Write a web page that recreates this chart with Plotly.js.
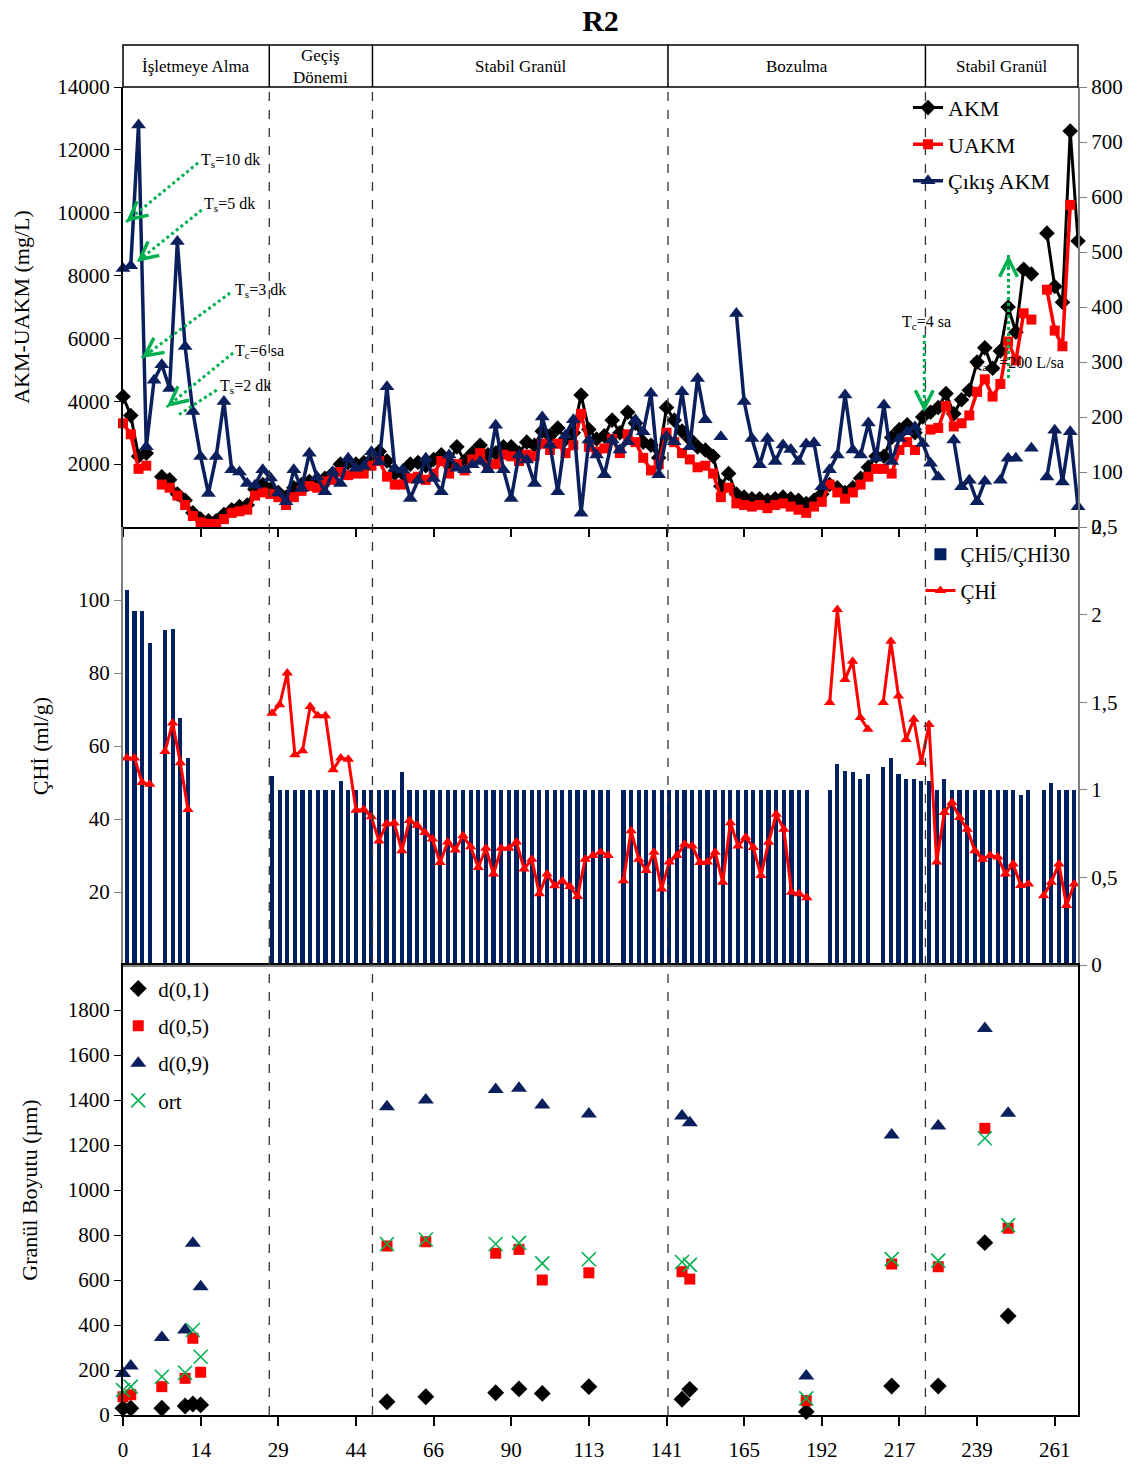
<!DOCTYPE html>
<html>
<head>
<meta charset="utf-8">
<script src="https://cdn.plot.ly/plotly-3.0.1.min.js"></script>
<style>html,body{margin:0;padding:0;background:#fff;}#chart{width:1148px;height:1466px;}</style>
</head>
<body>
<div id="chart"></div>
<script>
// ---------- DATA ----------
const xTickVals = [0,10,20,30,40,50,60,70,80,90,100,110,120];
const xTickText = ['0','14','29','44','66','90','113','141','165','192','217','239','261'];

const phaseNames = ['İşletmeye Alma','Geçiş<br>Dönemi','Stabil Granül','Bozulma','Stabil Granül'];
const phaseEdges = [18.84, 32.13, 70.19, 103.35];

const akmTickVals = [2000,4000,6000,8000,10000,12000,14000];
const akmTickText = ['2000','4000','6000','8000','10000','12000','14000'];

// top panel (sample index 0..123)
const akm = [4150,3550,2250,2350,null,1600,1500,1050,850,450,
 250,200,200,400,550,650,700,1200,1350,1200,
 1100,950,1250,1350,1450,1400,1550,1700,2000,2050,
 2000,2050,2150,2400,2100,1700,1700,2000,2050,1950,
 2150,2300,2050,2550,2100,2350,2600,2300,2350,2550,
 2550,2350,2700,2600,3050,2900,3150,2800,3000,4200,
 3100,2800,2900,3400,3000,3650,3300,2700,2600,2200,
 3800,3400,3050,2800,2550,2450,2250,1300,1700,1050,
 950,900,900,850,900,950,900,850,750,850,
 1050,1350,1250,1100,1250,1550,1900,2250,2250,2850,
 3100,3250,3000,3500,3650,3800,4250,3600,4050,4350,
 5250,5700,5050,5600,7000,6200,8200,8050,null,9350,
 7650,7150,12600,9100];
const uakm = [3300,2950,1850,1950,null,1350,1250,1000,700,350,
 150,100,100,250,450,500,550,1000,1100,1050,
 950,700,950,1150,1300,1250,1450,1500,1750,1650,
 1700,1700,1950,2100,1600,1350,1350,1550,1600,1500,
 1700,2100,1700,2000,1800,2150,2350,1900,2000,2300,
 2250,2100,2300,2250,2650,2450,2650,2350,2600,3600,
 2550,2400,2500,2800,2350,2950,2700,2200,1800,2000,
 3000,2700,2350,2150,1900,1950,1700,950,1250,750,
 700,650,700,600,700,750,650,550,450,650,
 800,1350,1100,900,1100,1350,1600,1850,1850,1700,
 2450,2700,2450,null,3100,3150,3850,3200,3300,3550,
 4300,4700,4150,4550,5900,5300,6800,6600,null,7550,
 6250,5750,10250,null];
const cikisAkm = [470,475,731,146,267,295,252,519,328,210,
 128,61,128,228,104,100,79,76,104,89,
 62,46,104,70,134,91,64,100,79,125,
 107,110,137,118,255,107,104,52,85,125,
 88,64,131,107,104,113,119,104,185,104,
 52,131,122,79,200,149,64,167,195,25,
 158,131,95,158,140,155,195,173,243,95,
 165,155,246,146,270,195,null,164,null,388,
 228,161,113,161,119,149,141,119,151,153,
 73,104,131,240,140,131,189,125,222,119,
 161,173,182,152,116,91,null,158,73,85,
 46,83,null,85,125,125,null,143,null,91,
 176,82,173,37];

// middle panel (125 categories)
const chi = [56.7,56.7,50,49.5,null,58.5,66.3,55.4,42.6,null,
 null,null,null,null,null,null,null,null,null,69,
 71.3,80,57.6,58.7,70.8,68.3,68.3,53.5,56.7,56.4,
 42.4,42.6,40.6,34,38.7,38.9,31.3,39.6,38.3,36.3,
 34.5,28.1,33.7,31.5,35.4,32.4,26.7,32,24.9,32,
 32,33.7,26.3,29,19.5,24.9,21.7,23,21.5,18.8,
 29,30,30.9,30,null,23.1,36.8,29,25.9,30.9,
 20.8,28.2,30,33.1,32.6,28.1,28.2,30.9,22.7,39,
 32.6,35,32.2,24.5,33.6,41.3,37.2,19.9,19.5,18.4,
 null,null,71.9,97.4,78.2,83.2,67.8,64.6,null,71.9,
 88.7,73.7,61.8,67.3,55.5,65.9,28.2,41.8,44.5,40.4,
 37.2,31.3,29,30,29.6,24.9,27.7,21.8,22.2,null,
 19,22.7,27.7,16.3,22.2];
const chiRatio = [2.14,2.02,2.02,1.84,null,1.91,1.92,1.41,1.18,null,
 null,null,null,null,null,null,null,null,null,1.08,
 1,1,1,1,1,1,1,1,1.05,1,
 1,1,1,1,1,1,1.1,1,1,1,
 1,1,1,1,1,1,1,1,1,1,
 1,1,1,1,1,1,1,1,1,1,
 1,1,1,1,null,1,1,1,1,1,
 1,1,1,1,1,1,1,1,1,1,
 1,1,1,1,1,1,1,1,1,1,
 null,null,1,1.15,1.11,1.1,1.06,1.09,null,1.13,
 1.18,1.09,1.06,1.06,1.05,1.05,1,1.06,1,1,
 1,1,1,1,1,1,1,0.97,1,null,
 1,1.04,1,1,1];

// bottom panel
const granulX = [0,1,5,8,9,10,34,39,48,51,54,60,72,73,88,99,105,111,114];
const d01 = [30,30,30,40,49,45,59,81,99,116,96,126,70,114,15,129,129,766,440];
const d05 = [81,90,126,163,341,190,751,770,719,736,600,632,637,604,64,671,659,1274,830];
const d09 = [185,218,345,378,763,570,1370,1400,1447,1452,1378,1338,1329,1299,173,1244,1284,1718,1341];
const ort = [111,126,170,188,378,259,760,780,760,765,674,692,680,667,74,693,686,1230,844];

// annotation labels (text, [x,y] of text, [x,y] start of dotted line, [x,y] head)
const notes = [
  {t:'T<sub>s</sub>=10 dk', tx:9.8,  ty:11650, sx:9.66,  sy:11583, hx:0.39,  hy:9705},
  {t:'T<sub>s</sub>=5 dk',  tx:10.2, ty:10250, sx:10.14, sy:10087, hx:1.77,  hy:8432},
  {t:'T<sub>s</sub>=3 dk',  tx:14.2, ty:7540,  sx:13.79, sy:7446,  hx:2.41,  hy:5378},
  {t:'T<sub>c</sub>=6 sa',  tx:14.2, ty:5570,  sx:14.18, sy:5537,  hx:5.63,  hy:3818},
  {t:'T<sub>s</sub>=2 dk',  tx:12.2, ty:4455,  sx:12.07, sy:4359,  hx:7.13,  hy:3564},
  {t:'T<sub>c</sub>=4 sa',  tx:100.1,ty:6520,  sx:103.2, sy:6109,  hx:103.2, hy:3659},
  {t:'Q<sub>atık</sub>=200 L/sa', tx:108.9, ty:5218, sx:114.05, sy:4741, hx:114.05, hy:8655}
];

// ---------- BUILD ----------
const idxTop = akm.map((_, i) => i);
const idxMid = chi.map((_, i) => i);

const FONT = 'Liberation Serif, Times New Roman, serif';
const NAVY = '#0b1f5c';
const GREEN = '#00b050';
const GRAY = '#808080';

const traces = [
  {x: idxTop, y: akm, name: 'AKM', xaxis: 'x', yaxis: 'y', mode: 'lines+markers',
   line: {color: '#000', width: 3}, marker: {symbol: 'diamond', size: 12, color: '#000'},
   cliponaxis: false, legend: 'legend', legendgroup: 'a'},
  {x: idxTop, y: uakm, name: 'UAKM', xaxis: 'x', yaxis: 'y', mode: 'lines+markers',
   line: {color: '#ff0000', width: 3.5}, marker: {symbol: 'square', size: 10, color: '#ff0000'},
   cliponaxis: false, legend: 'legend', legendgroup: 'b'},
  {x: idxTop, y: cikisAkm, name: 'Çıkış AKM', xaxis: 'x', yaxis: 'y4', mode: 'lines+markers',
   line: {color: NAVY, width: 3.5}, marker: {symbol: 'triangle-up', size: 13, color: NAVY},
   cliponaxis: false, legend: 'legend', legendgroup: 'c'},
  {x: idxMid, y: chiRatio, name: 'ÇHİ5/ÇHİ30', type: 'bar', xaxis: 'x2', yaxis: 'y2',
   width: 0.55, marker: {color: '#002060'}, legend: 'legend2', legendgroup: 'd'},
  {x: idxMid, y: chi, name: 'ÇHİ', xaxis: 'x2', yaxis: 'y5', mode: 'lines+markers',
   line: {color: '#ff0000', width: 3}, marker: {symbol: 'triangle-up', size: 10, color: '#ff0000'},
   cliponaxis: false, legend: 'legend2', legendgroup: 'e'},
  {x: granulX, y: d01, name: 'd(0,1)', xaxis: 'x3', yaxis: 'y3', mode: 'markers',
   marker: {symbol: 'diamond', size: 13, color: '#000'}, cliponaxis: false, legend: 'legend3', legendgroup: 'f'},
  {x: granulX, y: d05, name: 'd(0,5)', xaxis: 'x3', yaxis: 'y3', mode: 'markers',
   marker: {symbol: 'square', size: 11, color: '#ff0000'}, cliponaxis: false, legend: 'legend3', legendgroup: 'g'},
  {x: granulX, y: d09, name: 'd(0,9)', xaxis: 'x3', yaxis: 'y3', mode: 'markers',
   marker: {symbol: 'triangle-up', size: 14, color: NAVY}, cliponaxis: false, legend: 'legend3', legendgroup: 'h'},
  {x: granulX, y: ort, name: 'ort', xaxis: 'x3', yaxis: 'y3', mode: 'markers',
   marker: {symbol: 'x-thin-open', size: 14, color: GREEN, line: {color: GREEN, width: 1.6}},
   cliponaxis: false, legend: 'legend3', legendgroup: 'i'}
];

const TOP0 = 888/1370, TOP1 = 1328/1370, MID0 = 450/1370;
const tickFont = {family: FONT, size: 21, color: '#000'};
const titleFont = {family: FONT, size: 22, color: '#000'};

const shapes = [];
const annotations = [];

// header box
shapes.push({type: 'rect', xref: 'paper', yref: 'paper', x0: 0, x1: 1, y0: TOP1, y1: 1,
  line: {color: '#000', width: 1.5}});
phaseEdges.forEach(e => {
  shapes.push({type: 'line', xref: 'x', yref: 'paper', x0: e, x1: e, y0: TOP1, y1: 1,
    line: {color: '#000', width: 1.5}});
  shapes.push({type: 'line', xref: 'x', yref: 'paper', x0: e, x1: e, y0: 0, y1: TOP1,
    line: {color: '#333', width: 1.3, dash: 'dash'}});
});
const bounds = [0].concat(phaseEdges, [123]);
phaseNames.forEach((n, k) => {
  annotations.push({xref: 'x', yref: 'paper', x: (bounds[k] + bounds[k+1]) / 2, y: (TOP1 + 1) / 2,
    text: n, showarrow: false, font: {family: FONT, size: 17, color: '#000'}, yanchor: 'middle'});
});

// green arrows
notes.forEach(n => {
  shapes.push({type: 'line', xref: 'x', yref: 'y', x0: n.sx, y0: n.sy, x1: n.hx, y1: n.hy,
    line: {color: GREEN, width: 3, dash: 'dot'}});
  annotations.push({xref: 'x', yref: 'y', x: n.hx, y: n.hy, text: '', showarrow: true,
    axref: 'x', ayref: 'y',
    ax: n.hx + (n.sx - n.hx) * 0.12, ay: n.hy + (n.sy - n.hy) * 0.12,
    arrowhead: 5, arrowsize: 1.4, arrowwidth: 2.5, arrowcolor: GREEN, standoff: 0});
  annotations.push({xref: 'x', yref: 'y', x: n.tx, y: n.ty, text: n.t, showarrow: false,
    xanchor: 'left', yanchor: 'middle', font: {family: FONT, size: 16, color: '#000'}});
});

const layout = {
  width: 1148, height: 1466,
  margin: {l: 123, r: 70, t: 45, b: 51},
  paper_bgcolor: '#fff', plot_bgcolor: 'rgba(0,0,0,0)',
  font: {family: FONT, color: '#000'},
  title: {text: '<b>R2</b>', font: {family: FONT, size: 30, color: '#000'},
    x: 0.5, xref: 'paper', y: 0.986, yref: 'container', yanchor: 'middle'},
  showlegend: true,
  bargap: 0,
  xaxis: {domain: [0, 1], anchor: 'y', range: [0, 123], tickvals: xTickVals, ticktext: xTickText,
    showticklabels: false, ticks: 'outside', ticklen: 8, tickcolor: '#000', tickwidth: 1.5,
    showline: true, linecolor: '#000', linewidth: 2, showgrid: false, zeroline: false},
  yaxis: {domain: [TOP0, TOP1], anchor: 'x', range: [0, 14000],
    tickvals: akmTickVals, ticktext: akmTickText,
    ticks: 'outside', ticklen: 7, tickcolor: '#000', tickfont: tickFont,
    showline: true, linecolor: '#000', linewidth: 2, showgrid: false, zeroline: false,
    title: {text: 'AKM-UAKM (mg/L)', font: titleFont, standoff: 22}},
  yaxis4: {overlaying: 'y', side: 'right', anchor: 'x', range: [0, 800],
    tickvals: [0,100,200,300,400,500,600,700,800],
    ticks: 'outside', ticklen: 7, tickcolor: GRAY, tickfont: tickFont,
    showline: true, linecolor: GRAY, linewidth: 2, showgrid: false, zeroline: false},
  xaxis2: {domain: [0, 1], anchor: 'y2', range: [-0.5, 124.5], showticklabels: false, ticks: '',
    showline: true, linecolor: GRAY, linewidth: 2, showgrid: false, zeroline: false},
  yaxis2: {domain: [MID0, TOP0], anchor: 'x2', side: 'right', range: [0, 2.5],
    tickvals: [0, 0.5, 1, 1.5, 2, 2.5], ticktext: ['0','0,5','1','1,5','2','2,5'],
    ticks: 'outside', ticklen: 7, tickcolor: GRAY, tickfont: tickFont,
    showline: true, linecolor: GRAY, linewidth: 2, showgrid: false, zeroline: false},
  yaxis5: {overlaying: 'y2', side: 'left', anchor: 'x2', range: [0, 120],
    tickvals: [20, 40, 60, 80, 100],
    ticks: 'outside', ticklen: 7, tickcolor: GRAY, tickfont: tickFont,
    showline: true, linecolor: GRAY, linewidth: 2, showgrid: false, zeroline: false,
    title: {text: 'ÇHİ (ml/g)', font: titleFont, standoff: 24}},
  xaxis3: {domain: [0, 1], anchor: 'y3', range: [0, 123], tickvals: xTickVals, ticktext: xTickText,
    ticks: 'outside', ticklen: 9, tickcolor: '#000', tickwidth: 1.5, tickfont: tickFont,
    ticklabelstandoff: 6,
    showline: true, mirror: true, linecolor: '#000', linewidth: 2, showgrid: false, zeroline: false},
  yaxis3: {domain: [0, MID0], anchor: 'x3', range: [0, 2000],
    tickvals: [0,200,400,600,800,1000,1200,1400,1600,1800],
    ticks: 'outside', ticklen: 7, tickcolor: '#000', tickfont: tickFont,
    showline: true, mirror: true, linecolor: '#000', linewidth: 2, showgrid: false, zeroline: false,
    title: {text: 'Granül Boyutu (µm)', font: titleFont, standoff: 24}},
  legend: {x: 0.822, y: 0.9695, xanchor: 'left', yanchor: 'top', bgcolor: 'rgba(0,0,0,0)',
    font: {family: FONT, size: 22, color: '#000'}, tracegroupgap: 5, traceorder: 'grouped'},
  legend2: {x: 0.835, y: 0.643, xanchor: 'left', yanchor: 'top', bgcolor: 'rgba(0,0,0,0)',
    font: {family: FONT, size: 21, color: '#000'}, tracegroupgap: 6, traceorder: 'grouped'},
  legend3: {x: -0.005, y: 0.326, xanchor: 'left', yanchor: 'top', bgcolor: 'rgba(0,0,0,0)',
    font: {family: FONT, size: 21, color: '#000'}, tracegroupgap: 7, traceorder: 'grouped'},
  shapes: shapes,
  annotations: annotations
};

Plotly.newPlot('chart', traces, layout, {displayModeBar: false, responsive: false});
</script>
</body>
</html>
